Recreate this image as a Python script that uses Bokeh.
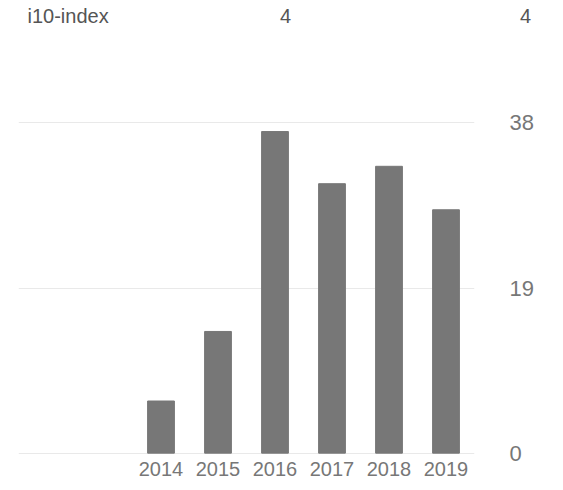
from bokeh.plotting import figure
from bokeh.models import Range1d, FixedTicker
from bokeh.layouts import column, row
from bokeh.embed import file_html
from bokeh.resources import INLINE
from bokeh.core.properties import value

years = [2014, 2015, 2016, 2017, 2018, 2019]
citations = [6, 14, 37, 31, 33, 28]
y_ticks = [0, 19, 38]
header_texts = ["i10-index", "4", "4"]
header_pos = [27, 285, 525]
header_align = ["left", "center", "center"]

BAR = "#777777"
TXT = "#777777"
W = 555

# header row
h = figure(width=W, height=40, output_backend="svg", toolbar_location=None,
           x_range=Range1d(0, W), y_range=Range1d(0, 40), min_border=0,
           outline_line_color=None, border_fill_color="white")
h.axis.visible = False
h.grid.visible = False
h.text(x=header_pos, y=[25] * 3, text=header_texts, text_align=header_align,
       text_baseline="middle", text_font=value("Liberation Sans"),
       text_font_size="20px", text_color="#555555")

p = figure(width=W, height=448, output_backend="svg", toolbar_location=None,
           x_range=Range1d(2011.5, 2019.5), y_range=Range1d(-0.5, 38.5),
           y_axis_location="right", min_border_left=18, min_border_right=81,
           min_border_top=78, min_border_bottom=31, outline_line_color=None,
           background_fill_color="white", border_fill_color="white")

p.vbar(x=years, top=citations, width=0.47, color=BAR)

p.xgrid.visible = False
p.ygrid.ticker = FixedTicker(ticks=y_ticks)
p.ygrid.grid_line_color = "#e9e9e9"
p.ygrid.grid_line_width = 1
p.ygrid.level = "underlay"

xa = p.xaxis[0]
xa.ticker = FixedTicker(ticks=years)
xa.axis_line_color = None
xa.major_tick_line_color = None
xa.minor_tick_line_color = None
xa.major_tick_in = 0
xa.major_tick_out = 0
xa.major_label_standoff = 4
xa.major_label_text_font = "Liberation Sans"
xa.major_label_text_font_size = "20px"
xa.major_label_text_color = TXT

ya = p.yaxis[0]
ya.ticker = FixedTicker(ticks=y_ticks)
ya.axis_line_color = None
ya.major_tick_line_color = None
ya.minor_tick_line_color = None
ya.major_tick_in = 0
ya.major_tick_out = 0
ya.major_label_standoff = 35
ya.major_label_text_font = "Liberation Sans"
ya.major_label_text_font_size = "22px"
ya.major_label_text_color = TXT

layout = column(row(h), p, spacing=0)
open("out.html", "w").write(file_html(layout, INLINE))
